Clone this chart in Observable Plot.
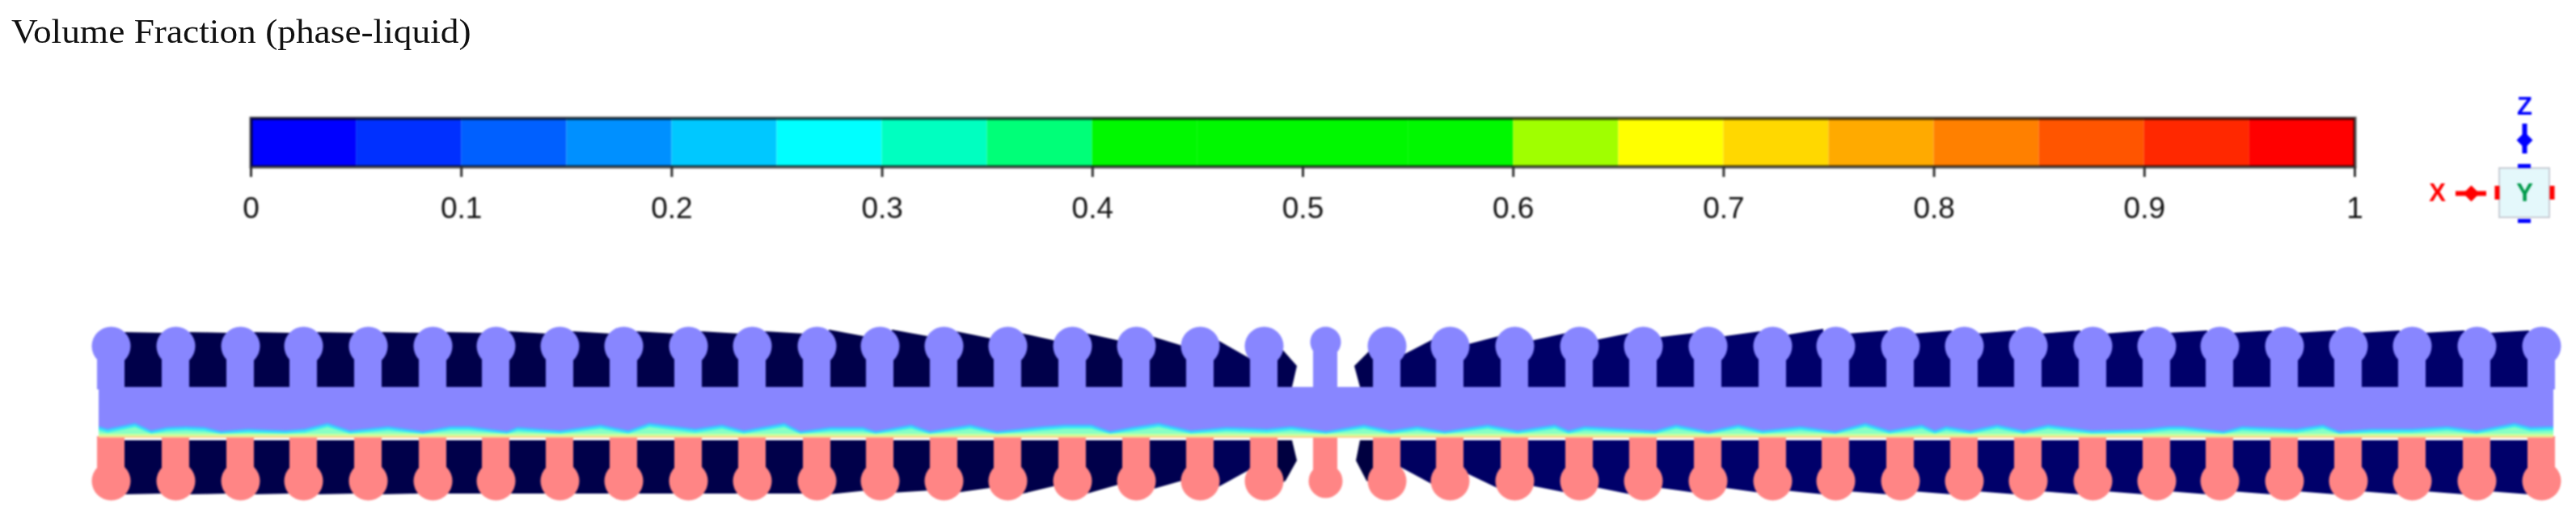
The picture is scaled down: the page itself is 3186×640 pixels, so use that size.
<!DOCTYPE html>
<html>
<head>
<meta charset="utf-8">
<script src="https://cdn.jsdelivr.net/npm/d3@7"></script>
<script src="https://cdn.jsdelivr.net/npm/@observablehq/plot@0.6"></script>
<style>
html,body{margin:0;padding:0;background:#fff;width:3186px;height:640px;overflow:hidden}
#title{position:absolute;left:14px;top:15px;font:42px "Liberation Serif",serif;color:#111;white-space:nowrap;filter:blur(.4px);transform:scaleX(1.08);transform-origin:0 0}
#bar{position:absolute;left:0;top:60px}
#triad{position:absolute;left:2990px;top:60px}
#device{position:absolute;left:0;top:330px}
svg{display:block}
</style>
</head>
<body>
<div id="title">Volume Fraction (phase-liquid)</div>
<div id="bar"></div><div id="triad"></div><div id="device"></div>
<script>
// ---- colour bar ----
const bandStart = [0,.05,.1,.15,.2,.25,.3,.35,.4,.45,.5,.55,.6,.65,.7,.75,.8,.85,.9,.95];
const bandColor = ["#0000ff","#0030ff","#0060ff","#0090ff","#00c8ff","#00ffff","#00ffc0","#00ff78","#00f800","#00f800","#00f800","#00f800","#a0ff00","#ffff00","#ffd800","#ffaa00","#ff8000","#ff5500","#ff2800","#ff0000"];
const tickValues = [0,.1,.2,.3,.4,.5,.6,.7,.8,.9,1];
const tickLabels = ["0","0.1","0.2","0.3","0.4","0.5","0.6","0.7","0.8","0.9","1"];

// ---- device section (picture pixels as data units) ----
const fins = [137,217,297,375,455,535,613,692,771,851,930,1010,1088,1167,1246,1326,1405,1484,1563,1639,1715,1793,1873,1953,2032,2112,2192,2270,2350,2429,2508,2588,2667,2745,2825,2904,2983,3063,3143];
const roofL = [411,411,411,411,411,411,410,410,410,410,410,408,408,410,412,412,415,417,null,null,442,428,423,422,418,417,415,413,413,413,413,413,412,412,412,412,412,412];
const roofR = [412,412,412,412,412,412,413,413,413,413,413,417,417,420,423,423,430,445,null,null,417,415,412,412,412,410,407,409,409,409,409,409,409,409,409,409,409,409];
const floorL = [612,612,612,612,612,611,611,611,611,611,611,612,610,610,612,612,607,607,null,null,577,583,600,602,603,603,607,608,608,608,608,608,608,608,608,608,608,608];
const floorR = [611,611,611,611,611,611,611,611,611,611,611,607,607,603,600,598,593,580,null,null,603,607,610,612,610,610,612,612,612,612,612,612,612,612,612,612,612,612];
const gapShade = ["#00004a","#00004a","#00004a","#00004a","#00004a","#00004a","#00004a","#00004a","#00004a","#00004a","#00004a","#00004a","#00004a","#00004a","#00004a","#00004a","#000050","#000058",null,null,"#000060","#000064","#000068","#00006a","#00006a","#00006a","#00006a","#00006a","#00006a","#00006a","#00006a","#00006a","#00006a","#00006a","#00006a","#00006a","#00006a","#00006a"];
const centreTopY  = [428,453,479,   430,453,479];
const centreTopX1 = [1578,1578,1578,1698,1675,1682];
const centreTopX2 = [1582,1604,1598,1702,1702,1702];
const centreTopId = [0,0,0,1,1,1];
const centreLowY  = [545,570,595,602,  545,570,595,602];
const centreLowX1 = [1578,1578,1578,1578,1682,1677,1690,1700];
const centreLowX2 = [1598,1604,1590,1580,1702,1702,1702,1702];
const centreLowId = [0,0,0,0,1,1,1,1];
const waveX = [122,133,167,187,207,230,253,273,307,353,377,405,433,480,523,557,580,627,640,693,743,777,803,860,893,920,970,990,1027,1067,1083,1127,1150,1200,1233,1290,1317,1350,1373,1400,1433,1473,1517,1567,1597,1640,1687,1720,1753,1787,1840,1877,1923,1940,1960,2047,2073,2113,2150,2180,2227,2270,2307,2337,2377,2393,2407,2437,2470,2503,2533,2587,2653,2683,2700,2750,2773,2840,2873,2893,2933,2983,3027,3063,3110,3130,3158];
const waveY = [527,530,523,532,528,527,528,533,530,532,530,523,532,527,533,527,527,533,528,532,525,532,523,530,525,532,523,533,528,528,533,525,533,525,533,527,525,525,533,528,523,532,528,530,527,533,525,532,527,533,525,532,525,532,527,532,525,533,525,532,527,533,523,532,525,532,527,532,525,532,525,532,530,527,527,533,527,530,525,533,530,530,527,532,523,528,527];

const PURPLE = "#8886ff", PINK = "#ff8585";
const centreFin = 1639;
const regularFins = fins.filter(f => f !== centreFin);

// colour bar plot
const bands = bandStart.map((s,i)=>({s, e:s+.05, c:bandColor[i]}));
document.getElementById("bar").append(Plot.plot({
  width:2990, height:270, marginLeft:310, marginRight:78, marginTop:86, marginBottom:124,
  style:{background:"transparent",filter:"blur(.8px)",fontFamily:"'Liberation Sans',Arial,sans-serif"},
  x:{domain:[0,1],axis:null}, y:{domain:[0,1],axis:null},
  marks:[
    Plot.rect(bands,{x1:"s",x2:"e",y1:0,y2:1,fill:"c"}),
    Plot.frame({stroke:"#000",strokeOpacity:.7,strokeWidth:4}),
    Plot.axisX({anchor:"bottom",ticks:tickValues,tickSize:13,tickPadding:24,fontSize:37,stroke:"#333",strokeWidth:3,
      tickFormat:d=>tickLabels[tickValues.indexOf(d)],fill:"#111",label:null})
  ]
}));

// axis triad
document.getElementById("triad").append(Plot.plot({
  width:196, height:270, margin:0,
  style:{background:"transparent",filter:"blur(.8px)",fontFamily:"'Liberation Sans',Arial,sans-serif"},
  x:{domain:[2990,3186],axis:null}, y:{domain:[330,60],axis:null},
  marks:[
    Plot.rect([0],{x1:3091,x2:3153,y1:208,y2:269,fill:"#e4f8fb",stroke:"#c8ccd4",strokeWidth:2}),
    Plot.text(["Z"],{x:3122,y:132,fill:"#0000ff",fontSize:31,fontWeight:"bold"}),
    Plot.text(["X"],{x:3014,y:239,fill:"#ff0000",fontSize:31,fontWeight:"bold"}),
    Plot.text(["Y"],{x:3122,y:239,fill:"#009a4a",fontSize:31,fontWeight:"bold"}),
    Plot.ruleX([3122],{y1:153,y2:190,stroke:"#0000ff",strokeWidth:6}),
    Plot.dot([0],{x:3122,y:173,symbol:"diamond2",r:9,fill:"#0000ff",stroke:null}),
    Plot.ruleY([239],{x1:3037,x2:3075,stroke:"#ff0000",strokeWidth:6}),
    Plot.dot([0],{x:3056,y:239,symbol:"diamond2",r:9,fill:"#ff0000",stroke:null}),
    Plot.ruleY([205,273],{x1:3114,x2:3130,stroke:"#0000ff",strokeWidth:5}),
    Plot.ruleX([3088,3156],{y1:230,y2:247,stroke:"#ff0000",strokeWidth:6})
  ]
}));

// device plot
const topGapRows = [], lowGapRows = [];
fins.slice(0,-1).forEach((f,i)=>{
  if (roofL[i]===null) return;
  const a=f+15, b=fins[i+1]-15;
  topGapRows.push({g:i,x:a,y1:roofL[i],y2:479,c:gapShade[i]},{g:i,x:b,y1:roofR[i],y2:479,c:gapShade[i]});
  lowGapRows.push({g:i,x:a,y1:545,y2:floorL[i],c:gapShade[i]},{g:i,x:b,y1:545,y2:floorR[i],c:gapShade[i]});
});
const centreTop = centreTopY.map((y,i)=>({id:centreTopId[i],y,x1:centreTopX1[i],x2:centreTopX2[i]}));
const centreLow = centreLowY.map((y,i)=>({id:centreLowId[i],y,x1:centreLowX1[i],x2:centreLowX2[i]}));
const wave = waveX.map((x,i)=>({x,y:waveY[i]}));
document.getElementById("device").append(Plot.plot({
  width:3186, height:310, margin:0,
  style:{background:"transparent",filter:"blur(1.1px)"},
  x:{domain:[0,3186],axis:null}, y:{domain:[640,330],axis:null},
  color:{type:"identity"},
  marks:[
    Plot.areaY(topGapRows,{x:"x",y1:"y1",y2:"y2",z:"g",fill:"c"}),
    Plot.areaY(lowGapRows,{x:"x",y1:"y1",y2:"y2",z:"g",fill:"c"}),
    Plot.areaX(centreTop,{y:"y",x1:"x1",x2:"x2",z:"id",fill:"#000050"}),
    Plot.areaX(centreLow,{y:"y",x1:"x1",x2:"x2",z:"id",fill:"#000040"}),
    // top fins, purple
    Plot.rect(regularFins,{x1:f=>f-17,x2:f=>f+17,y1:435,y2:482,fill:PURPLE}),
    Plot.rect([centreFin],{x1:f=>f-15,x2:f=>f+15,y1:435,y2:482,fill:PURPLE}),
    Plot.dot(regularFins,{x:f=>f,y:428,r:24,fill:PURPLE}),
    Plot.dot([centreFin],{x:f=>f,y:423,r:19,fill:PURPLE}),
    // bottom fins, pink
    Plot.rect(regularFins,{x1:f=>f-17,x2:f=>f+17,y1:540,y2:595,fill:PINK}),
    Plot.rect([centreFin],{x1:f=>f-15,x2:f=>f+15,y1:540,y2:595,fill:PINK}),
    Plot.dot(regularFins,{x:f=>f,y:595,r:24,fill:PINK}),
    Plot.dot([centreFin],{x:f=>f,y:595,r:21,fill:PINK}),
    // bar and interface
    Plot.rect([0],{x1:122,x2:3158,y1:479,y2:535,fill:PURPLE}),
    Plot.areaY(wave,{x:"x",y1:"y",y2:542,fill:"#5aa8ff"}),
    Plot.areaY(wave,{x:"x",y1:d=>d.y+2,y2:542,fill:"#38d8ff"}),
    Plot.areaY(wave,{x:"x",y1:d=>d.y+4,y2:542,fill:"#48f4e4"}),
    Plot.areaY(wave,{x:"x",y1:d=>Math.min(d.y+6,537),y2:542,fill:"#88ffc4"}),
    Plot.rect([0],{x1:122,x2:3158,y1:537,y2:540,fill:"#ccff9c"}),
    Plot.rect([0],{x1:122,x2:3158,y1:540,y2:542,fill:"#ffd08c"})
  ]
}));
</script>
</body>
</html>
